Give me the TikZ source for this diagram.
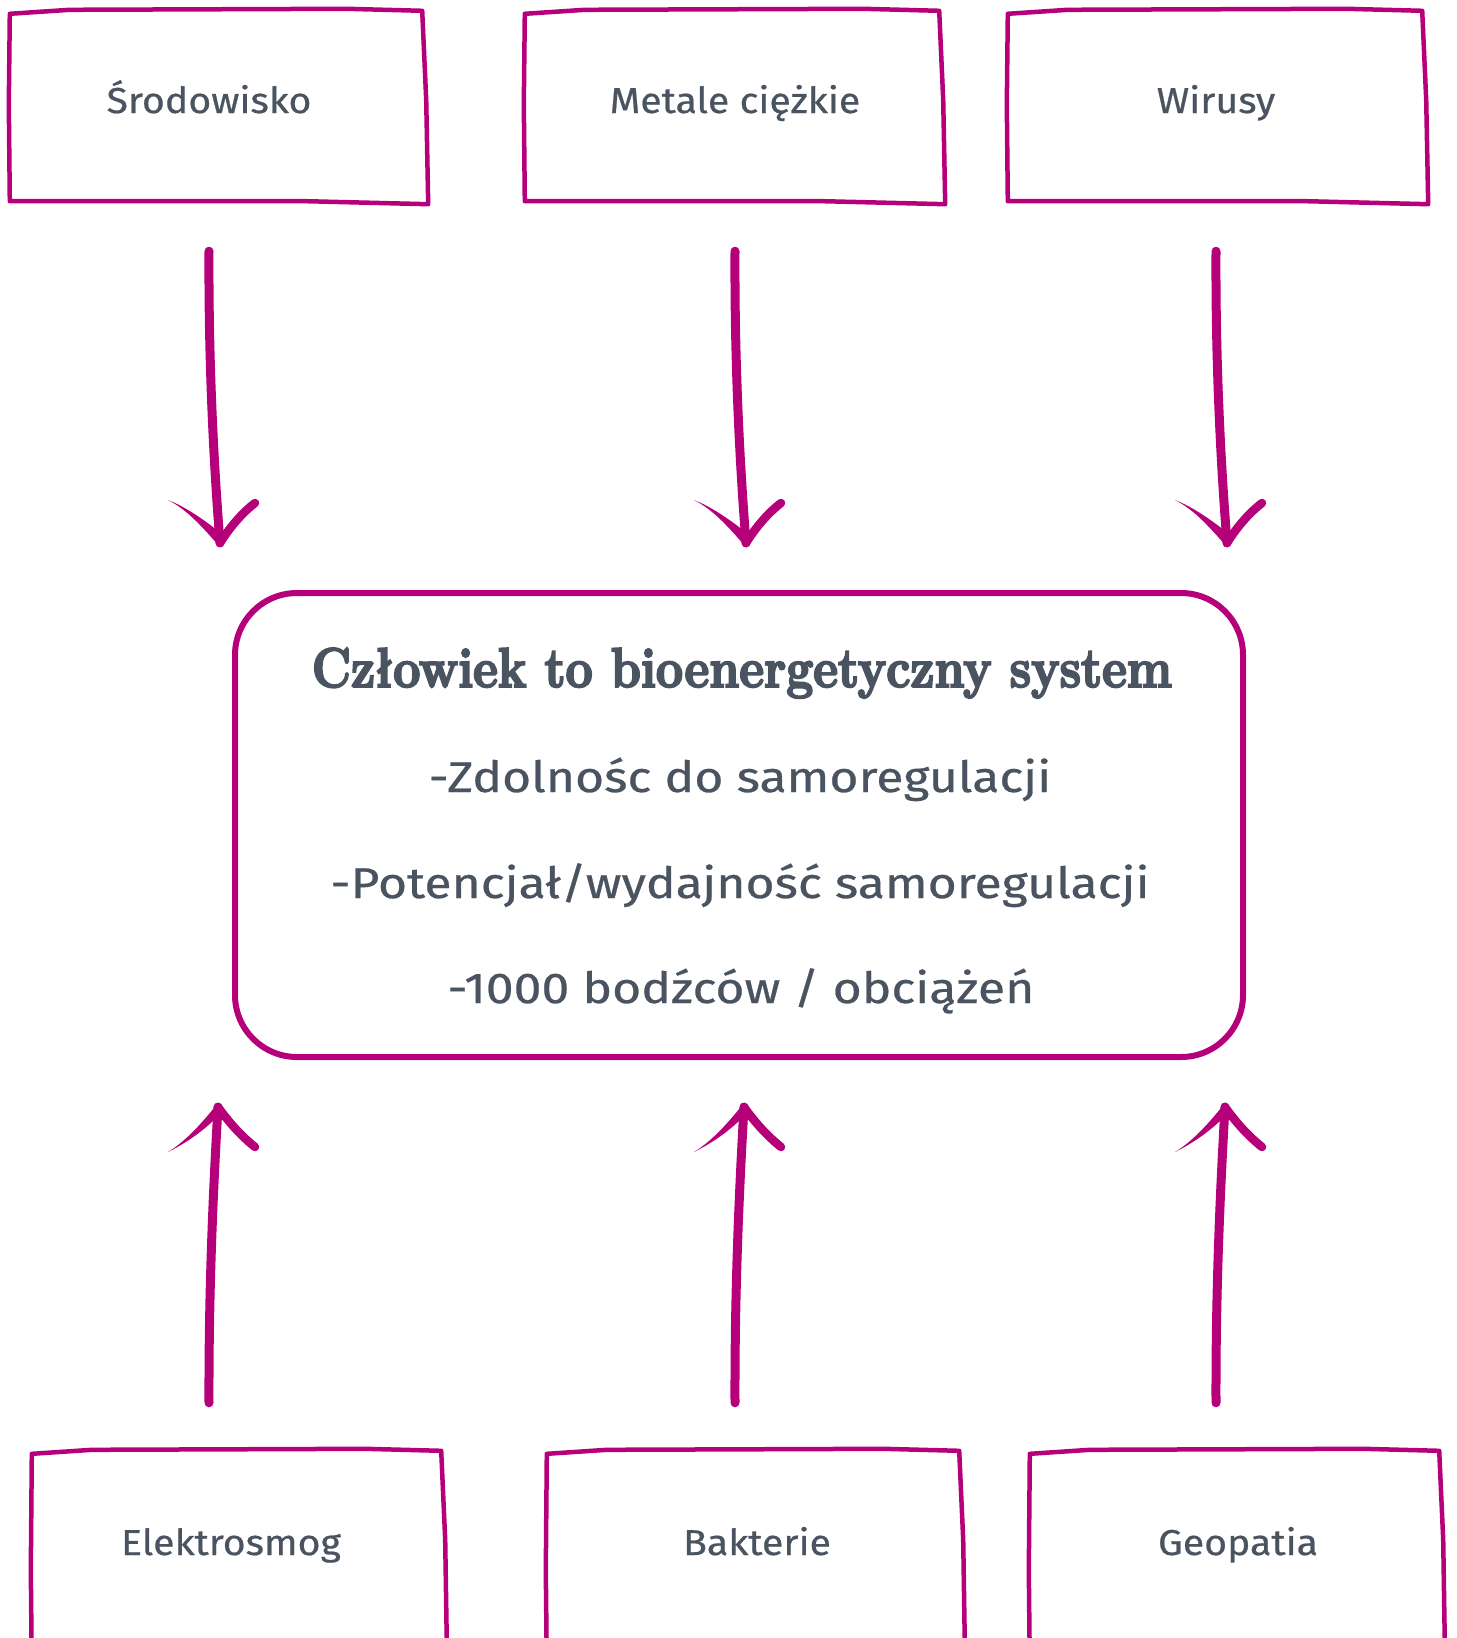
\documentclass[tikz,border=0pt]{standalone}
\usepackage{fontspec}
\usetikzlibrary{calc}
\newfontfamily\labfont[FakeStretch=1.09,FakeBold=0.6]{Fira Sans}
\newfontfamily\bodyfont[FakeStretch=1.16,FakeBold=0.6]{Fira Sans}
\newfontfamily\ttlfont[FakeStretch=0.86,FakeBold=3.5]{Latin Modern Roman}
\definecolor{mag}{RGB}{181,0,122}
\definecolor{ink}{RGB}{74,84,96}
\tikzset{
  boxline/.style={draw=mag, line width=4.5pt, line join=round, line cap=round},
  geom/.style={rectangle, draw=none, inner sep=0pt},
  lab/.style={font=\labfont\fontsize{36}{40}\selectfont, text=ink, anchor=base, inner sep=0pt},
  body/.style={font=\bodyfont\fontsize{43}{48}\selectfont, text=ink, anchor=base, inner sep=0pt},
  ttl/.style={font=\ttlfont\bfseries\fontsize{56}{60}\selectfont, text=ink, anchor=base, inner sep=0pt},
  shaft/.style={draw=mag, line width=9pt, line cap=round},
  barb/.style={draw=mag, line width=8.5pt, line cap=round},
}
\newcommand\sketchbox[1]{%
  \draw[boxline] ([shift={(0,4)}]#1.north west) -- ([shift={(60,0)}]#1.north west)
    -- ([shift={(-80,-1)}]#1.north east) -- ([shift={(-4,1)}]#1.north east)
    -- ([shift={(0,90)}]#1.north east) -- ([shift={(2,0)}]#1.south east)
    -- ([shift={(-120,-3)}]#1.south east) -- ([shift={(0,-3)}]#1.south west)
    -- ([shift={(-1,-100)}]#1.south west) -- cycle;}
\newcommand\arrdown[2]{%
  \draw[shaft] (#1) .. controls ($(#1)!0.4!(#2)+(-5,0)$) and ($(#1)!0.75!(#2)+(-3,0)$) .. (#2);
  \fill[mag] ($(#2)+(-52,-43)$) .. controls ($(#2)+(-34,-36)$) and ($(#2)+(-14,-22)$) .. ($(#2)+(3,-8)$)
    -- ($(#2)+(0,4)$) .. controls ($(#2)+(-16,-14)$) and ($(#2)+(-32,-33)$) .. cycle;
  \draw[barb] (#2) .. controls ($(#2)+(10,-16)$) and ($(#2)+(22,-30)$) .. ($(#2)+(35,-40)$);}
\newcommand\arrup[2]{%
  \draw[shaft] (#1) .. controls ($(#1)!0.4!(#2)+(-4,0)$) and ($(#1)!0.75!(#2)+(-2,0)$) .. (#2);
  \fill[mag] ($(#2)+(-50,45)$) .. controls ($(#2)+(-32,36)$) and ($(#2)+(-14,24)$) .. ($(#2)+(3,6)$)
    -- ($(#2)+(0,-4)$) .. controls ($(#2)+(-16,16)$) and ($(#2)+(-32,34)$) .. cycle;
  \draw[barb] (#2) .. controls ($(#2)+(10,14)$) and ($(#2)+(22,28)$) .. ($(#2)+(37,40)$);}
\begin{document}
\begin{tikzpicture}[x=1pt,y=-1pt]
\useasboundingbox (0,0) rectangle (1456,1638);
\clip (0,0) rectangle (1456,1638);
% box geometry
\node[geom, minimum width=416pt, minimum height=194pt] (b1) at (218,107) {};
\node[geom, minimum width=418pt, minimum height=194pt] (b2) at (734,107) {};
\node[geom, minimum width=418pt, minimum height=194pt] (b3) at (1217,107) {};
\node[geom, minimum width=413pt, minimum height=220pt] (b4) at (238.5,1560) {};
\node[geom, minimum width=416pt, minimum height=220pt] (b5) at (755,1560) {};
\node[geom, minimum width=413pt, minimum height=220pt] (b6) at (1236.5,1560) {};
\foreach \b in {b1,b2,b3,b4,b5,b6} {\sketchbox{\b}}
% labels
\node[lab] (t1) at (209,113) {Środowisko};
\node[lab] (t2) at (735,113) {Metale ciężkie};
\node[lab] (t3) at (1216,113) {Wirusy};
\node[lab] (t4) at (231,1555) {Elektrosmog};
\node[lab] (t5) at (757,1555) {Bakterie};
\node[lab] (t6) at (1238,1555) {Geopatia};
% center box
\node[draw=mag, line width=6pt, rounded corners=62pt, minimum width=1008pt, minimum height=464pt, inner sep=0pt] (c) at (739,825) {};
\node[ttl] (h) at (742,687) {Człowiek to bioenergetyczny system};
\node[body] (l1) at (740,792) {-Zdolnośc do samoregulacji};
\node[body] (l2) at (740,898) {-Potencjał/wydajność samoregulacji};
\node[body] (l3) at (741,1003) {-1000 bodźców / obciążeń};
% arrow end points
\foreach \t/\i in {t1/1,t2/2,t3/3} {
  \coordinate (s\i) at ($(\t |- b1.south)+(0,47)$);
  \coordinate (e\i) at ($(\t |- c.north)+(11,-47)$);
  \coordinate (u\i) at ($(\t |- b4.north)+(0,-47)$);
  \coordinate (v\i) at ($(\t |- c.south)+(9,47)$);
}
\foreach \i in {1,2,3} {\arrdown{s\i}{e\i}\arrup{u\i}{v\i}}
\end{tikzpicture}
\end{document}
